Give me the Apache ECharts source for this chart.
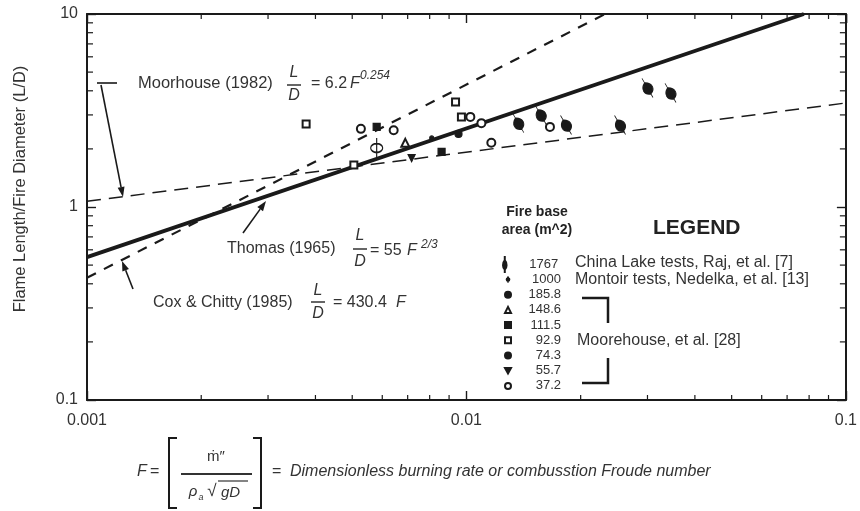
<!DOCTYPE html>
<html>
<head>
<meta charset="utf-8">
<script src="https://cdn.jsdelivr.net/npm/echarts@6/dist/echarts.min.js"></script>
<style>
  html, body { margin: 0; padding: 0; background: #fff; }
  #chart { width: 860px; height: 511px; }
</style>
</head>
<body>
<div id="chart"></div>
<script>
  // axis ranges and minor ticks (log-log)
  const xRange = [0.001, 0.1];
  const yRange = [0.1, 10];
  const xMinorTicks = [0.002, 0.003, 0.004, 0.005, 0.006, 0.007, 0.008, 0.009,
    0.02, 0.03, 0.04, 0.05, 0.06, 0.07, 0.08, 0.09];
  const yMinorTicks = [0.2, 0.3, 0.4, 0.5, 0.6, 0.7, 0.8, 0.9,
    2, 3, 4, 5, 6, 7, 8, 9];

  // correlation lines, end points [F, L/D]
  const moorhouseLine = [[0.001, 1.07], [0.1, 3.46]];
  const thomasLine = [[0.001, 0.55], [0.0775, 10]];
  const coxLine = [[0.001, 0.43], [0.0232, 10]];

  // test data [F, L/D], by fire base area (m^2)
  const areaLabels = ['1767', '1000', '185.8', '148.6', '111.5', '92.9', '74.3', '55.7', '37.2'];
  const chinaLake = [[0.0137, 2.72], [0.0157, 3.0], [0.0183, 2.66], [0.0254, 2.66], [0.030, 4.14], [0.0345, 3.9]];
  const montoir = [[0.0058, 2.02]];
  const area1858 = [[0.0081, 2.28]];
  const area1486 = [[0.0069, 2.15]];
  const area1115 = [[0.0086, 1.93], [0.0058, 2.6]];
  const area929 = [[0.00378, 2.69], [0.00505, 1.65], [0.0097, 2.93], [0.00936, 3.5]];
  const area743 = [[0.00953, 2.39]];
  const area557 = [[0.00717, 1.79]];
  const area372 = [[0.00527, 2.54], [0.01095, 2.72], [0.0166, 2.6], [0.01024, 2.93], [0.01163, 2.15], [0.00643, 2.5]];

  const ink = '#1a1a1a';
  const txt = '#333';
  const font = '"Liberation Sans", Arial, sans-serif';

  const chart = echarts.init(document.getElementById('chart'));

  function fmt(v) {
    return String(parseFloat(Number(v).toPrecision(3)));
  }

  function minorTickX(params, api) {
    const cs = params.coordSys;
    const x = api.coord([api.value(0), 1])[0];
    const b = cs.y + cs.height;
    const st = { stroke: ink, lineWidth: 1.2 };
    return {
      type: 'group',
      children: [
        { type: 'line', shape: { x1: x, y1: b, x2: x, y2: b - 5 }, style: st },
        { type: 'line', shape: { x1: x, y1: cs.y, x2: x, y2: cs.y + 5 }, style: st }
      ]
    };
  }

  function minorTickY(params, api) {
    const cs = params.coordSys;
    const y = api.coord([0.01, api.value(1)])[1];
    const r = cs.x + cs.width;
    const st = { stroke: ink, lineWidth: 1.2 };
    return {
      type: 'group',
      children: [
        { type: 'line', shape: { x1: cs.x, y1: y, x2: cs.x + 6, y2: y }, style: st },
        { type: 'line', shape: { x1: r, y1: y, x2: r - 6, y2: y }, style: st }
      ]
    };
  }

  // small arrow for annotations
  function arrow(x1, y1, x2, y2) {
    const a = Math.atan2(y2 - y1, x2 - x1);
    const len = 10, w = 3.5;
    const bx = x2 - len * Math.cos(a), by = y2 - len * Math.sin(a);
    const nx = -Math.sin(a) * w, ny = Math.cos(a) * w;
    return [
      { type: 'line', shape: { x1: x1, y1: y1, x2: bx, y2: by }, style: { stroke: ink, lineWidth: 1.6 } },
      { type: 'polygon', shape: { points: [[x2, y2], [bx + nx, by + ny], [bx - nx, by - ny]] }, style: { fill: ink } }
    ];
  }

  function label(text, x, y, size, extra) {
    return {
      type: 'text', x: x, y: y,
      style: Object.assign({ text: text, font: size + 'px ' + font, fill: txt, verticalAlign: 'middle' }, extra || {})
    };
  }

  function frac(cx, yTop, yBar, yBot) {
    return [
      label('L', cx, yTop, 16, { align: 'center', font: 'italic 16px ' + font }),
      { type: 'line', shape: { x1: cx - 7, y1: yBar, x2: cx + 7, y2: yBar }, style: { stroke: txt, lineWidth: 1.5 } },
      label('D', cx, yBot, 16, { align: 'center', font: 'italic 16px ' + font })
    ];
  }

  const graphics = [].concat(
    // y axis title
    [{
      type: 'text', x: 20, y: 189, rotation: Math.PI / 2,
      style: { text: 'Flame Length/Fire Diameter (L/D)', font: '16.5px ' + font, fill: txt, align: 'center', verticalAlign: 'middle' }
    }],
    // Moorhouse annotation
    [label('Moorhouse (1982)', 138, 83, 16.5)],
    frac(294, 73, 85, 96),
    [label('= 6.2', 311, 84, 16), label('F', 350, 84, 16, { font: 'italic 16px ' + font }),
      label('0.254', 360, 76, 12, { font: 'italic 12px ' + font })],
    [{ type: 'line', shape: { x1: 97, y1: 83, x2: 117, y2: 83 }, style: { stroke: ink, lineWidth: 1.6 } }],
    arrow(101, 85, 123, 197),
    // Thomas annotation
    [label('Thomas (1965)', 227, 249, 16)],
    frac(360, 236, 249, 262),
    [label('= 55', 370, 251, 16), label('F', 407, 251, 16, { font: 'italic 16px ' + font }),
      label('2/3', 421, 245, 12, { font: 'italic 12px ' + font })],
    arrow(243, 233, 266, 201),
    // Cox & Chitty annotation
    [label('Cox & Chitty (1985)', 153, 303, 16)],
    frac(318, 291, 302, 314),
    [label('= 430.4', 333, 303, 16), label('F', 396, 303, 16, { font: 'italic 16px ' + font })],
    arrow(133, 289, 122, 261),
    // legend header
    [label('Fire base', 537, 212, 14, { font: 'bold 14px ' + font, align: 'center', fill: '#222' }),
      label('area (m^2)', 537, 230, 14, { font: 'bold 14px ' + font, align: 'center', fill: '#222' }),
      label('LEGEND', 653, 228, 21, { font: 'bold 21px ' + font, fill: '#222' }),
      label('China Lake tests, Raj, et al. [7]', 575, 263, 16),
      label('Montoir tests, Nedelka, et al. [13]', 575, 280, 16),
      label('Moorehouse, et al. [28]', 577, 341, 16)],
    [{ type: 'polyline', shape: { points: [[582, 298], [608, 298], [608, 323]] }, style: { stroke: ink, lineWidth: 2.5, fill: null } },
      { type: 'polyline', shape: { points: [[608, 358], [608, 383], [582, 383]] }, style: { stroke: ink, lineWidth: 2.5, fill: null } }],
    // Froude number definition
    [label('F', 137, 472, 16, { font: 'italic 16px ' + font }), label('=', 150, 472, 16),
      { type: 'polyline', shape: { points: [[177, 438], [169, 438], [169, 508], [177, 508]] }, style: { stroke: ink, lineWidth: 2, fill: null } },
      { type: 'polyline', shape: { points: [[253, 438], [261, 438], [261, 508], [253, 508]] }, style: { stroke: ink, lineWidth: 2, fill: null } },
      label('m\u0307\u2033', 216, 457, 15, { align: 'center' }),
      { type: 'line', shape: { x1: 181, y1: 474, x2: 252, y2: 474 }, style: { stroke: txt, lineWidth: 2.2 } },
      label('\u03c1', 193, 492, 15, { align: 'center', font: 'italic 15px ' + font }),
      label('a', 201, 497, 9, { align: 'center', font: 'italic 9px ' + font }),
      label('\u221a', 212, 491, 17, { align: 'center' }),
      { type: 'line', shape: { x1: 218, y1: 481, x2: 248, y2: 481 }, style: { stroke: txt, lineWidth: 1.2 } },
      label('gD', 221, 493, 15, { font: 'italic 15px ' + font }),
      label('=', 272, 472, 16),
      label('Dimensionless burning rate or combusstion Froude number', 290, 472, 16, { font: 'italic 16px ' + font })]
  );

  const pointStyle = { color: ink, borderColor: ink, borderWidth: 1.2, opacity: 1 };
  const hollowStyle = { color: ink, borderWidth: 1.4, opacity: 1 };

  const scatterDefs = [
    { data: chinaLake, symbol: 'path://M5,0 L5,20 M5,5 C7.8,8 7.8,14 5,16 C2.2,14 2.2,8 5,5 Z', size: [10, 22], rotate: 30, style: pointStyle },
    { data: montoir, symbol: 'path://M6,0 L6,18 M6,5 A4,4 0 1,1 6,13 A4,4 0 1,1 6,5 Z', size: [12, 20], rotate: 0, style: { color: 'transparent', borderColor: ink, borderWidth: 1.5, opacity: 1 } },
    { data: area1858, symbol: 'circle', size: 4, rotate: 0, style: pointStyle },
    { data: area1486, symbol: 'emptyTriangle', size: 8, rotate: 0, style: hollowStyle },
    { data: area1115, symbol: 'rect', size: 7, rotate: 0, style: pointStyle },
    { data: area929, symbol: 'emptyRect', size: 7, rotate: 0, style: hollowStyle },
    { data: area743, symbol: 'circle', size: 7, rotate: 0, style: pointStyle },
    { data: area557, symbol: 'path://M0,0 L10,0 L5,9 Z', size: 7, rotate: 0, style: pointStyle },
    { data: area372, symbol: 'emptyCircle', size: 8, rotate: 0, style: hollowStyle }
  ];

  const scatterSeries = scatterDefs.map((d, i) => ({
    name: areaLabels[i],
    type: 'scatter',
    data: d.data,
    symbol: d.symbol,
    symbolSize: d.size,
    symbolRotate: d.rotate,
    itemStyle: d.style,
    z: 5,
    silent: true
  }));

  function corrLine(data, width, dash) {
    return {
      type: 'line', data: data, showSymbol: false, silent: true, z: 3,
      lineStyle: { color: ink, width: width, type: dash }
    };
  }

  const axisCommon = {
    type: 'log', logBase: 10,
    axisLine: { lineStyle: { color: ink, width: 2 } },
    axisTick: { inside: true, length: 9, lineStyle: { color: ink, width: 1.4 } },
    splitLine: { show: false },
    minorTick: { show: false }
  };

  const legendText = (w) => ({
    color: txt, fontFamily: font, fontSize: 13,
    rich: { v: { width: w, align: 'right', fontSize: 13, lineHeight: 13, fontFamily: font, color: txt } }
  });

  const option = {
    animation: false,
    backgroundColor: '#fff',
    grid: { left: 87, right: 11, top: 14, bottom: 111 },
    xAxis: [
      Object.assign({}, axisCommon, {
        min: xRange[0], max: xRange[1], position: 'bottom',
        axisLabel: { margin: 13, fontSize: 16, fontFamily: font, color: txt, formatter: fmt, showMinLabel: true, showMaxLabel: true }
      }),
      Object.assign({}, axisCommon, {
        min: xRange[0], max: xRange[1], position: 'top', axisLabel: { show: false }
      })
    ],
    yAxis: [
      Object.assign({}, axisCommon, {
        min: yRange[0], max: yRange[1], position: 'left',
        axisLabel: { margin: 9, fontSize: 16, fontFamily: font, color: txt, formatter: fmt }
      }),
      Object.assign({}, axisCommon, {
        min: yRange[0], max: yRange[1], position: 'right', axisLabel: { show: false }
      })
    ],
    legend: [
      {
        data: areaLabels.slice(0, 1),
        orient: 'vertical',
        left: 497,
        top: 250,
        itemWidth: 9,
        itemHeight: 17,
        selectedMode: false,
        formatter: name => '{v|' + name + '}',
        textStyle: legendText(44)
      },
      {
        data: areaLabels.slice(1),
        orient: 'vertical',
        left: 499,
        top: 268,
        itemWidth: 6,
        itemHeight: 6,
        itemGap: 2.2,
        selectedMode: false,
        formatter: name => '{v|' + name + '}',
        textStyle: legendText(45)
      }
    ],
    graphic: graphics,
    series: [
      corrLine(moorhouseLine, 1.5, [14, 8]),
      corrLine(thomasLine, 3.8, 'solid'),
      corrLine(coxLine, 2.2, [10, 9]),
      {
        type: 'custom', silent: true, renderItem: minorTickX, z: 2,
        data: xMinorTicks.map(v => [v, 1])
      },
      {
        type: 'custom', silent: true, renderItem: minorTickY, z: 2,
        data: yMinorTicks.map(v => [0.01, v])
      }
    ].concat(scatterSeries)
  };

  chart.setOption(option);
</script>
</body>
</html>
